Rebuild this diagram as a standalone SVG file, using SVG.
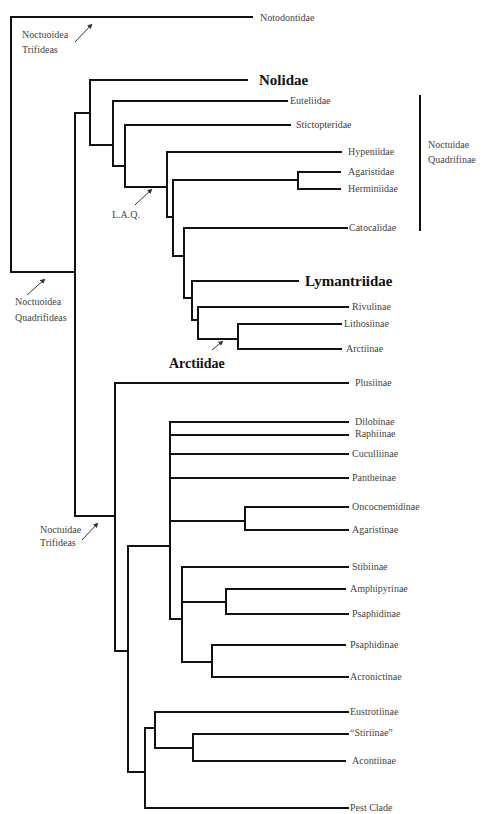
<svg xmlns="http://www.w3.org/2000/svg" width="487" height="814" viewBox="0 0 487 814">
<style>
.e{fill:none;stroke:#111;stroke-width:2;stroke-linecap:square}
.a{fill:none;stroke:#333;stroke-width:1}
.t{font-family:"Liberation Serif",serif;font-size:10px;fill:#444}
.b{font-family:"Liberation Serif",serif;font-weight:bold;font-size:15px;fill:#111}
</style>
<defs>
<marker id="ah" viewBox="0 0 10 10" refX="9" refY="5" markerWidth="5" markerHeight="5" orient="auto"><path d="M0,0L10,5L0,10z" fill="#333"/></marker>
</defs>
<rect width="487" height="814" fill="#fff"/>
<g id="connectors">
<path class="e" d="M11,17H252M11,17V272H75"/>
<path class="e" d="M75,113V516M75,113H90M90,80V145M90,80H247M90,145H113M113,101V166M113,101H287M113,166H125M125,125V187M125,125H290M125,187H167M167,152V217M167,152H341M167,217H173M173,180V256M173,180H298M298,172V189M298,172H340M298,189H340M173,256H184M184,228V298M184,228H347M184,298H192M192,281V320M192,281H298M192,320H198M198,307V339M198,307H348M198,339H238M238,324V349M238,324H341M238,349H341"/>
<path class="e" d="M75,516H115M115,383V651M115,383H348M115,651H128M128,546V772M128,546H170M170,422V619M170,422H348M170,435H348M170,454H348M170,478H348M170,521H245M245,507V530M245,507H348M245,530H348M170,619H182M182,567V662M182,567H348M182,602H226M226,589V614M226,589H345M226,614H348M182,662H212M212,645V677M212,645H345M212,677H348M128,772H145M145,728V808M145,808H348M145,728H155M155,712V748M155,712H348M155,748H193M193,734V761M193,734H348M193,761H345"/>
<path class="e" d="M420,96V230"/>
<line class="a" x1="75" y1="42" x2="92" y2="24" marker-end="url(#ah)"/>
<line class="a" x1="27" y1="295" x2="45" y2="279" marker-end="url(#ah)"/>
<line class="a" x1="135" y1="205" x2="152" y2="189" marker-end="url(#ah)"/>
<line class="a" x1="212" y1="350" x2="223" y2="341" marker-end="url(#ah)"/>
<line class="a" x1="82" y1="540" x2="98" y2="523" marker-end="url(#ah)"/>
</g>
<g id="n-notodontidae"><text class="t" x="260" y="21">Notodontidae</text></g>
<g id="n-noct-trif-top"><text class="t" x="22" y="38">Noctuoidea</text><text class="t" x="22" y="53">Trifideas</text></g>
<g id="n-nolidae"><text class="b" x="259" y="85">Nolidae</text></g>
<g id="n-euteliidae"><text class="t" x="290" y="104">Euteliidae</text></g>
<g id="n-stictopteridae"><text class="t" x="296" y="128">Stictopteridae</text></g>
<g id="n-hypeniidae"><text class="t" x="348" y="155">Hypeniidae</text></g>
<g id="n-agaristidae"><text class="t" x="348" y="175">Agaristidae</text></g>
<g id="n-herminiidae"><text class="t" x="348" y="192">Herminiidae</text></g>
<g id="n-catocalidae"><text class="t" x="349" y="231">Catocalidae</text></g>
<g id="n-quadrifinae"><text class="t" x="428" y="148">Noctuidae</text><text class="t" x="428" y="163">Quadrifinae</text></g>
<g id="n-laq"><text class="t" x="112" y="218">L.A.Q.</text></g>
<g id="n-noct-quad"><text class="t" x="15" y="305">Noctuoidea</text><text class="t" x="15" y="321">Quadrifideas</text></g>
<g id="n-lymantriidae"><text class="b" x="305" y="286">Lymantriidae</text></g>
<g id="n-rivulinae"><text class="t" x="352" y="310">Rivulinae</text></g>
<g id="n-lithosiinae"><text class="t" x="344" y="327">Lithosiinae</text></g>
<g id="n-arctiinae"><text class="t" x="346" y="352">Arctiinae</text></g>
<g id="n-arctiidae"><text class="b" x="169" y="368" style="font-size:14px">Arctiidae</text></g>
<g id="n-plusiinae"><text class="t" x="355" y="386">Plusiinae</text></g>
<g id="n-dilobinae"><text class="t" x="355" y="425">Dilobinae</text></g>
<g id="n-raphiinae"><text class="t" x="355" y="437">Raphiinae</text></g>
<g id="n-cuculliinae"><text class="t" x="352" y="457">Cuculliinae</text></g>
<g id="n-pantheinae"><text class="t" x="352" y="481">Pantheinae</text></g>
<g id="n-oncocnemidinae"><text class="t" x="352" y="510">Oncocnemidinae</text></g>
<g id="n-agaristinae"><text class="t" x="352" y="533">Agaristinae</text></g>
<g id="n-noctuidae-trif"><text class="t" x="40" y="533">Noctuidae</text><text class="t" x="40" y="546">Trifideas</text></g>
<g id="n-stibiinae"><text class="t" x="352" y="570">Stibiinae</text></g>
<g id="n-amphipyrinae"><text class="t" x="350" y="592">Amphipyrinae</text></g>
<g id="n-psaphidinae1"><text class="t" x="352" y="617">Psaphidinae</text></g>
<g id="n-psaphidinae2"><text class="t" x="350" y="648">Psaphidinae</text></g>
<g id="n-acronictinae"><text class="t" x="350" y="680">Acronictinae</text></g>
<g id="n-eustrotiinae"><text class="t" x="350" y="715">Eustrotiinae</text></g>
<g id="n-stiriinae"><text class="t" x="350" y="736">“Stiriinae”</text></g>
<g id="n-acontiinae"><text class="t" x="352" y="764">Acontiinae</text></g>
<g id="n-pestclade"><text class="t" x="350" y="811">Pest Clade</text></g>
</svg>
